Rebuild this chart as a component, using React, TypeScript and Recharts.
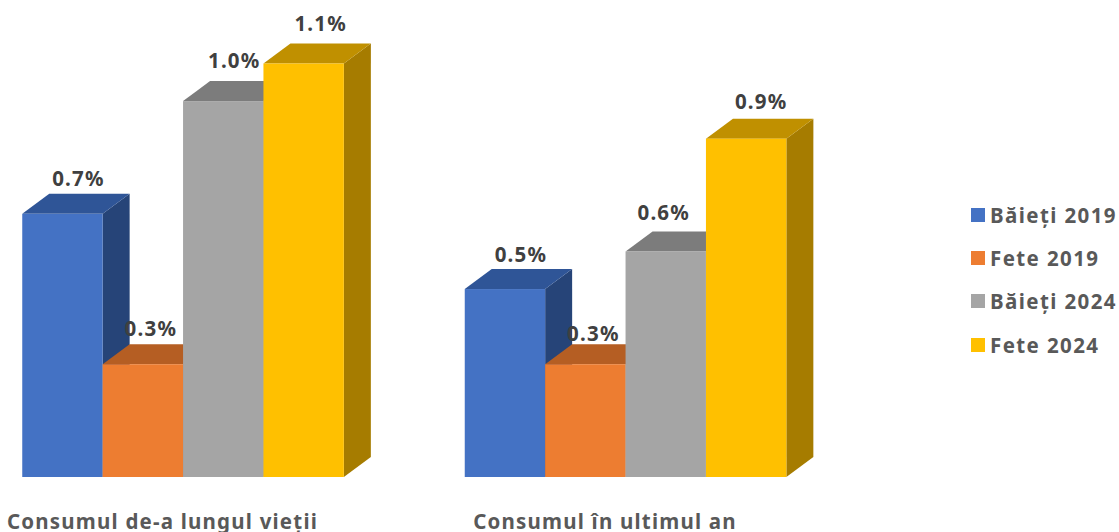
import React from "react";
import { BarChart, Bar, XAxis, YAxis, Legend, LabelList } from "recharts";

const categories = ["Consumul de-a lungul vieții", "Consumul în ultimul an"];
const baieti2019 = [0.7, 0.5];
const fete2019 = [0.3, 0.3];
const baieti2024 = [1.0, 0.6];
const fete2024 = [1.1, 0.9];

const rows = categories.map((category, i) => ({
  category,
  baieti2019: baieti2019[i],
  fete2019: fete2019[i],
  baieti2024: baieti2024[i],
  fete2024: fete2024[i],
}));

const FONT = "'Noto Sans', sans-serif";
const DX = 27;
const DY = 20;

const seriesStyles = [
  { key: "baieti2019", name: "Băieți 2019", front: "#4472C4", top: "#2F5597", side: "#264478", labelDx: [16, 16], labelDy: [-36, -35] },
  { key: "fete2019", name: "Fete 2019", front: "#ED7D31", top: "#B55E23", side: "#9E5223", labelDx: [8, 8], labelDy: [-36, -31] },
  { key: "baieti2024", name: "Băieți 2024", front: "#A5A5A5", top: "#7C7C7C", side: "#636363", labelDx: [11, -2], labelDy: [-41, -39] },
  { key: "fete2024", name: "Fete 2024", front: "#FFC000", top: "#C09000", side: "#A67C00", labelDx: [17, 15], labelDy: [-41, -38] },
];

function Box3D(props: any) {
  const { x, y, width, height, front, top, side } = props;
  const b = y + height;
  const r = x + width;
  return (
    <g>
      <polygon points={`${r},${y} ${r + DX},${y - DY} ${r + DX},${b - DY} ${r},${b}`} fill={side} />
      <polygon points={`${x},${y} ${x + DX},${y - DY} ${r + DX},${y - DY} ${r},${y}`} fill={top} />
      <rect x={x} y={y} width={width} height={height} fill={front} />
    </g>
  );
}

function makeLabel(style: (typeof seriesStyles)[number]) {
  return (props: any) => {
    const { x, y, width, value, index } = props;
    return (
      <text
        x={x + width / 2 + style.labelDx[index]}
        y={y + style.labelDy[index]}
        textAnchor="middle"
        dominantBaseline="central"
        fontFamily={FONT}
        fontWeight={700}
        fontSize={20.5}
        letterSpacing={1.2}
        fill="#404040"
      >
        {`${Number(value).toFixed(1)}%`}
      </text>
    );
  };
}

function CategoryTick(props: any) {
  const { x, payload } = props;
  return (
    <text
      x={x - 21}
      y={529}
      textAnchor="middle"
      fontFamily={FONT}
      fontWeight={700}
      fontSize={20.5}
      letterSpacing={1.2}
      fill="#595959"
    >
      {payload.value}
    </text>
  );
}

function LegendBox() {
  return (
    <div>
      {seriesStyles.map((s) => (
        <div key={s.key} style={{ display: "flex", alignItems: "center", height: 43.4 }}>
          <span style={{ width: 14, height: 14, background: s.front, marginRight: 5, flex: "none" }} />
          <span style={{ fontFamily: FONT, fontWeight: 700, fontSize: 20.5, letterSpacing: 1.4, color: "#595959", whiteSpace: "nowrap" }}>
            {s.name}
          </span>
        </div>
      ))}
    </div>
  );
}

export default function App() {
  return (
    <div style={{ position: "fixed", left: -60, top: 0, width: 1179, height: 532, overflow: "hidden", background: "#fff" }}>
      <BarChart
        width={1179}
        height={532}
        data={rows}
        margin={{ top: 63.5, right: 123.75, bottom: 0, left: 22.25 }}
        barSize={80.4}
        barGap={0}
      >
        <XAxis dataKey="category" axisLine={false} tickLine={false} height={55} interval={0} tick={<CategoryTick />} />
        <YAxis hide domain={[0, 1.1]} />
        <Legend
          content={<LegendBox />}
          layout="vertical"
          align="right"
          verticalAlign="top"
          wrapperStyle={{ position: "absolute", left: 1031, top: 193, width: 148 }}
        />
        {seriesStyles.map((s) => (
          <Bar
            key={s.key}
            dataKey={s.key}
            name={s.name}
            fill={s.front}
            isAnimationActive={false}
            shape={(p: any) => <Box3D {...p} front={s.front} top={s.top} side={s.side} />}
          >
            <LabelList dataKey={s.key} content={makeLabel(s)} />
          </Bar>
        ))}
      </BarChart>
    </div>
  );
}
